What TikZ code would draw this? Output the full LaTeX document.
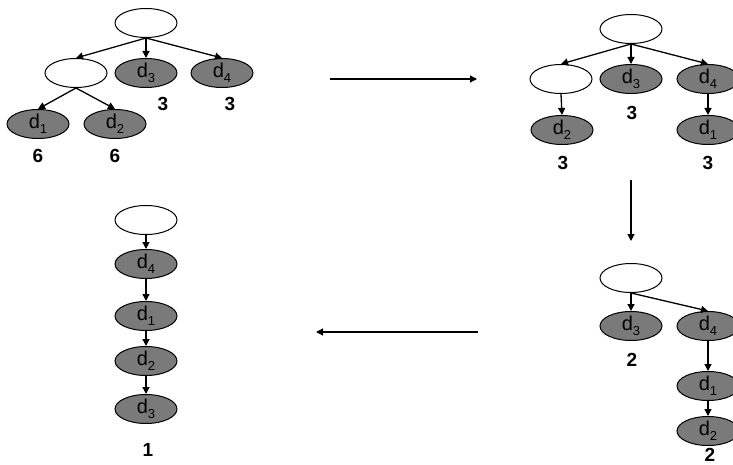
\documentclass[tikz,border=0pt]{standalone}
\usepackage{fontspec}
\setmainfont{Liberation Sans}
\usetikzlibrary{shapes.geometric,arrows.meta}
\definecolor{docfill}{RGB}{122,122,122}
\newcommand{\dlab}[1]{d\raisebox{-0.45ex}{\fontsize{13}{13}\selectfont #1}}
\tikzset{
  blank/.style={ellipse, draw=black, line width=1pt, fill=white,
    minimum width=62pt, minimum height=29pt, inner sep=0pt},
  doc/.style={blank, fill=docfill, font=\fontsize{20}{20}\selectfont},
  cnt/.style={font=\bfseries\fontsize{19}{19}\selectfont, inner sep=0pt},
  edge/.style={line width=1.3pt, -{Triangle[length=7pt,width=7pt]}},
  step arrow/.style={line width=1.2pt, -{Triangle[length=7pt,width=7pt]}}
}
\begin{document}
\begin{tikzpicture}[x=1pt,y=-1pt]
\clip (0,0) rectangle (733,465);
\fill[white] (0,0) rectangle (733,465);

% initial tree: two documents under an inner node
\node[blank] (a0) at (146,23) {};
\node[blank] (a1) at (76,73) {};
\node[doc] (a3) at (146,73) {\dlab{3}};
\node[doc] (a4) at (222,73) {\dlab{4}};
\node[doc] (ad1) at (38,124) {\dlab{1}};
\node[doc] (ad2) at (115,124) {\dlab{2}};
\draw[edge] (a0.south) -- (a1.north);
\draw[edge] (a0.south) -- (a3.north);
\draw[edge] (a0.south) -- (a4.north);
\draw[edge] (a1.south) -- (ad1.north);
\draw[edge] (a1.south) -- (ad2.north);
\node[cnt] (la3) at (163,104) {3};
\node[cnt] (la4) at (230,104) {3};
\node[cnt] (la1) at (38,156) {6};
\node[cnt] (la2) at (115,156) {6};

% second tree
\node[blank] (b0) at (631,29) {};
\node[blank] (b1) at (561,79) {};
\node[doc] (b3) at (631,79) {\dlab{3}};
\node[doc] (b4) at (708,79) {\dlab{4}};
\node[doc] (bd2) at (562,130) {\dlab{2}};
\node[doc] (bd1) at (708,130) {\dlab{1}};
\draw[edge] (b0.south) -- (b1.north);
\draw[edge] (b0.south) -- (b3.north);
\draw[edge] (b0.south) -- (b4.north);
\draw[edge] (b1.south) -- (bd2.north);
\draw[edge] (b4.south) -- (bd1.north);
\node[cnt] (lb3) at (632,113) {3};
\node[cnt] (lb2) at (563,163) {3};
\node[cnt] (lb1) at (708,163) {3};

% third tree
\node[blank] (c0) at (631,278) {};
\node[doc] (c3) at (631,326) {\dlab{3}};
\node[doc] (c4) at (708,326) {\dlab{4}};
\node[doc] (c1) at (708,386) {\dlab{1}};
\node[doc] (c2) at (708,431) {\dlab{2}};
\draw[edge] (c0.south) -- (c3.north);
\draw[edge] (c0.south) -- (c4.north);
\draw[edge] (c4.south) -- (c1.north);
\draw[edge] (c1.south) -- (c2.north);
\node[cnt] (lc3) at (632,360) {2};
\node[cnt] (lc2) at (710,455) {2};

% final chain
\node[blank] (e0) at (146,220) {};
\node[doc] (e4) at (146,264) {\dlab{4}};
\node[doc] (e1) at (146,316) {\dlab{1}};
\node[doc] (e2) at (146,361) {\dlab{2}};
\node[doc] (e3) at (146,409) {\dlab{3}};
\draw[edge] (e0.south) -- (e4.north);
\draw[edge] (e4.south) -- (e1.north);
\draw[edge] (e1.south) -- (e2.north);
\draw[edge] (e2.south) -- (e3.north);
\node[cnt] (le) at (148,450) {1};

% transformation steps
\coordinate (s1a) at (330,79);
\coordinate (s1b) at (477,79);
\coordinate (s2a) at (631,180);
\coordinate (s2b) at (631,241);
\coordinate (s3a) at (478,332);
\coordinate (s3b) at (316,332);
\draw[step arrow] (s1a) -- (s1b);
\draw[step arrow] (s2a) -- (s2b);
\draw[step arrow] (s3a) -- (s3b);
\end{tikzpicture}
\end{document}
